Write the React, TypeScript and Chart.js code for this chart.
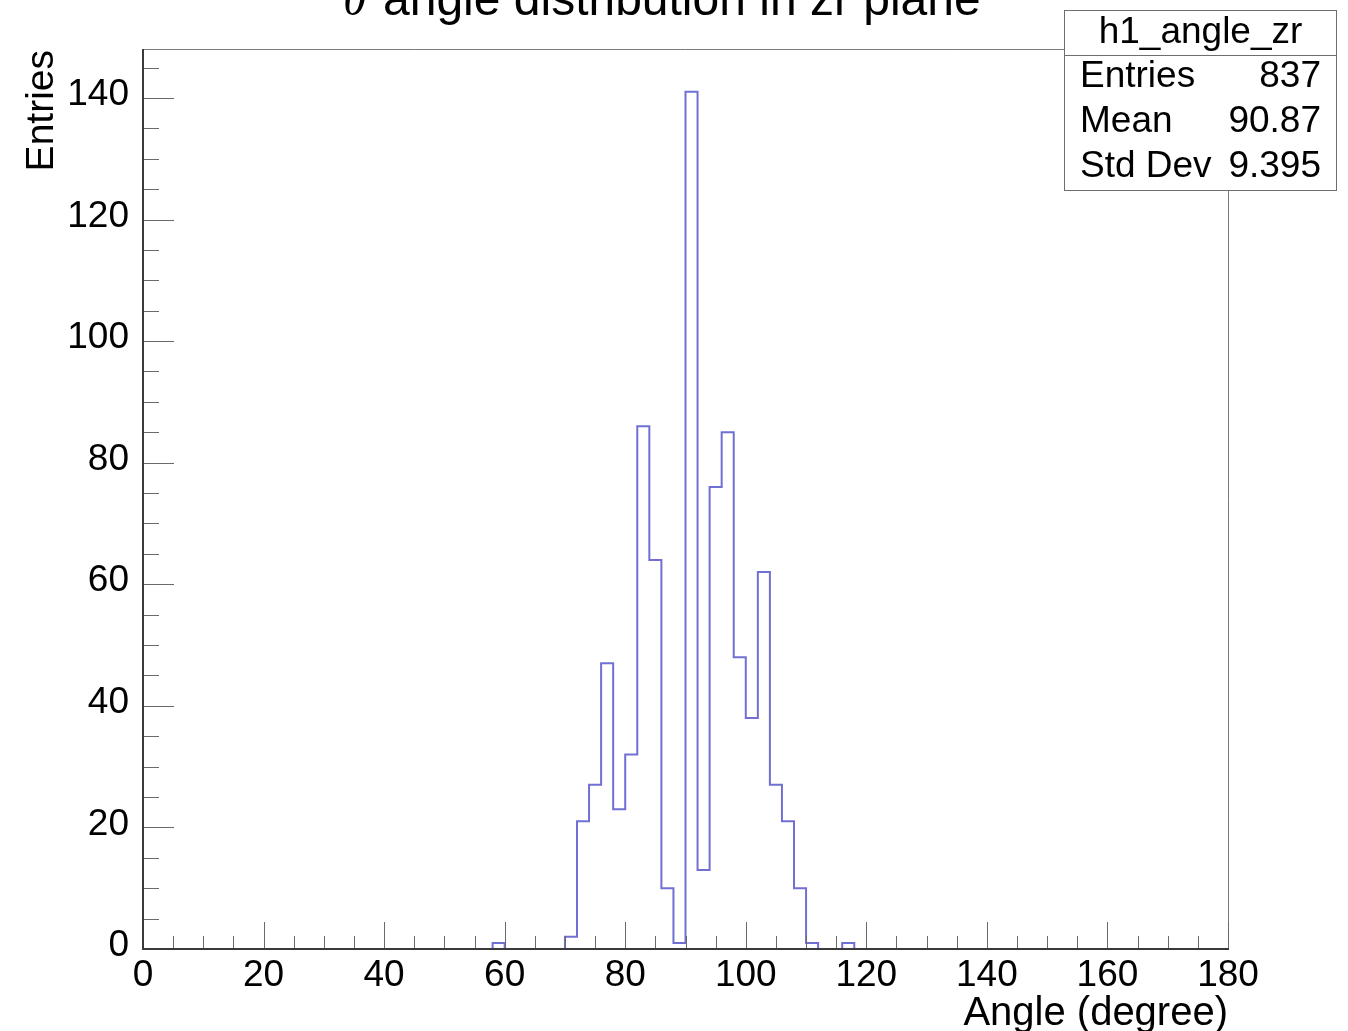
import React, { useEffect, useRef } from "react";
import { Chart, registerables } from "chart.js";

Chart.register(...registerables);

// ---- data ----
const X_MIN = 0;
const X_MAX = 180;
const N_BINS = 90;
// entries per 2-degree bin, bins 0..89 (0-2, 2-4, ..., 178-180)
const counts: number[] = [
  0, 0, 0, 0, 0, 0, 0, 0, 0, 0, // 0-20
  0, 0, 0, 0, 0, 0, 0, 0, 0, 0, // 20-40
  0, 0, 0, 0, 0, 0, 0, 0, 0, 1, // 40-60
  0, 0, 0, 0, 0, 2, 21, 27, 47, 23, // 60-80
  32, 86, 64, 10, 1, 141, 13, 76, 85, 48, // 80-100
  38, 62, 27, 21, 10, 1, 0, 0, 1, 0, // 100-120
  0, 0, 0, 0, 0, 0, 0, 0, 0, 0, // 120-140
  0, 0, 0, 0, 0, 0, 0, 0, 0, 0, // 140-160
  0, 0, 0, 0, 0, 0, 0, 0, 0, 0, // 160-180
];
const Y_MAX = 148.05;
const X_TICK_STEP = 20;
const Y_TICK_STEP = 20;
const MINOR_STEP = 5;

const titleSymbol = "θ";
const titleText = "angle distribution in zr plane";
const xAxisTitle = "Angle (degree)";
const yAxisTitle = "Entries";
const statsName = "h1_angle_zr";
const statsLabels = ["Entries", "Mean", "Std Dev"];
const statsValues = ["837", "90.87", "9.395"];

const SANS = '"Liberation Sans", Arial, Helvetica, sans-serif';
const SERIF = '"Liberation Serif", "Times New Roman", serif';

const rootPlugin = {
  id: "rootDecor",
  afterDatasetsDraw(chart: any) {
    const ctx = chart.ctx as CanvasRenderingContext2D;
    const xs = chart.scales.x;
    const ys = chart.scales.y;
    const { left, right, top, bottom } = chart.chartArea;
    ctx.save();
    // frame (top, right)
    ctx.strokeStyle = "#7a7a7a";
    ctx.lineWidth = 1;
    ctx.beginPath();
    ctx.moveTo(left, top + 0.5);
    ctx.lineTo(right + 0.5, top + 0.5);
    ctx.lineTo(right + 0.5, bottom);
    ctx.stroke();
    // ticks
    ctx.strokeStyle = "#6a6a6a";
    ctx.beginPath();
    for (let v = X_MIN; v <= X_MAX + 1e-9; v += MINOR_STEP) {
      const px = Math.round(xs.getPixelForValue(v)) + 0.5;
      const len = v % X_TICK_STEP === 0 ? 27 : 13;
      ctx.moveTo(px, bottom);
      ctx.lineTo(px, bottom - len);
    }
    for (let v = 0; v <= Y_MAX + 1e-9; v += MINOR_STEP) {
      const py = Math.round(ys.getPixelForValue(v)) + 0.5;
      const len = v % Y_TICK_STEP === 0 ? 31 : 16;
      ctx.moveTo(left, py);
      ctx.lineTo(left + len, py);
    }
    ctx.stroke();
    // axes
    ctx.strokeStyle = "#3a3a3a";
    ctx.lineWidth = 2;
    ctx.beginPath();
    ctx.moveTo(left, top);
    ctx.lineTo(left, bottom);
    ctx.lineTo(right + 1, bottom);
    ctx.stroke();
    ctx.restore();
  },
  afterDraw(chart: any) {
    const ctx = chart.ctx as CanvasRenderingContext2D;
    ctx.save();
    ctx.fillStyle = "#000";
    ctx.textBaseline = "alphabetic";
    // title
    ctx.textAlign = "left";
    ctx.font = `italic 48px ${SERIF}`;
    ctx.fillText(titleSymbol, 343, 15);
    ctx.font = `48px ${SANS}`;
    ctx.fillText(titleText, 383, 15);
    // x axis title
    ctx.font = `40px ${SANS}`;
    ctx.textAlign = "right";
    ctx.fillText(xAxisTitle, chart.chartArea.right, 1025);
    // y axis title
    ctx.save();
    ctx.translate(53, chart.chartArea.top + 1);
    ctx.rotate(-Math.PI / 2);
    ctx.font = `39px ${SANS}`;
    ctx.textAlign = "right";
    ctx.fillText(yAxisTitle, 0, 0);
    ctx.restore();
    // stats box
    const bx = 1064.5, by = 10.5, bw = 272, bh = 180;
    ctx.fillStyle = "#fff";
    ctx.fillRect(bx, by, bw, bh);
    ctx.strokeStyle = "#6e6e6e";
    ctx.lineWidth = 1;
    ctx.strokeRect(bx, by, bw, bh);
    ctx.beginPath();
    ctx.moveTo(bx, 55.5);
    ctx.lineTo(bx + bw, 55.5);
    ctx.stroke();
    ctx.fillStyle = "#000";
    ctx.font = `37px ${SANS}`;
    ctx.textAlign = "center";
    ctx.fillText(statsName, bx + bw / 2, 43);
    const baselines = [87, 132, 177];
    statsLabels.forEach((lab, i) => {
      ctx.textAlign = "left";
      ctx.fillText(lab, 1080, baselines[i]);
      ctx.textAlign = "right";
      ctx.fillText(statsValues[i], 1321, baselines[i]);
    });
    ctx.restore();
  },
};

export default function App() {
  const canvasRef = useRef<HTMLCanvasElement | null>(null);

  useEffect(() => {
    if (!canvasRef.current) return;
    const binWidth = (X_MAX - X_MIN) / N_BINS;
    const points = counts.map((c, i) => ({ x: X_MIN + i * binWidth, y: c }));
    points.push({ x: X_MAX, y: counts[counts.length - 1] });

    const chart = new Chart(canvasRef.current, {
      type: "line",
      data: {
        datasets: [
          {
            label: statsName,
            data: points,
            stepped: "before",
            borderColor: "rgb(112,112,212)",
            borderWidth: 2,
            pointRadius: 0,
            fill: false,
            tension: 0,
          } as any,
        ],
      },
      options: {
        responsive: false,
        animation: false,
        events: [],
        layout: { padding: { top: 49, right: 120, left: 0, bottom: 0 } },
        plugins: {
          legend: { display: false },
          tooltip: { enabled: false },
          title: { display: false },
        },
        scales: {
          x: {
            type: "linear",
            min: X_MIN,
            max: X_MAX,
            grid: { display: false },
            border: { display: false },
            ticks: {
              stepSize: X_TICK_STEP,
              autoSkip: false,
              maxRotation: 0,
              padding: -3,
              color: "#000",
              font: { size: 37, family: SANS, lineHeight: 1.2 },
            },
            afterFit: (scale: any) => {
              scale.height = 82;
            },
          },
          y: {
            type: "linear",
            min: 0,
            max: Y_MAX,
            grid: { display: false },
            border: { display: false },
            ticks: {
              stepSize: Y_TICK_STEP,
              includeBounds: false,
              padding: 6,
              labelOffset: -3,
              color: "#000",
              font: { size: 37, family: SANS, lineHeight: 1.2 },
            },
            afterFit: (scale: any) => {
              scale.width = 143;
            },
          },
        },
      },
      plugins: [rootPlugin],
    });
    return () => chart.destroy();
  }, []);

  return (
    <div style={{ position: "absolute", left: 0, top: 0, width: 1348, height: 1031, background: "#fff" }}>
      <canvas ref={canvasRef} width={1348} height={1031} style={{ display: "block" }} />
    </div>
  );
}
